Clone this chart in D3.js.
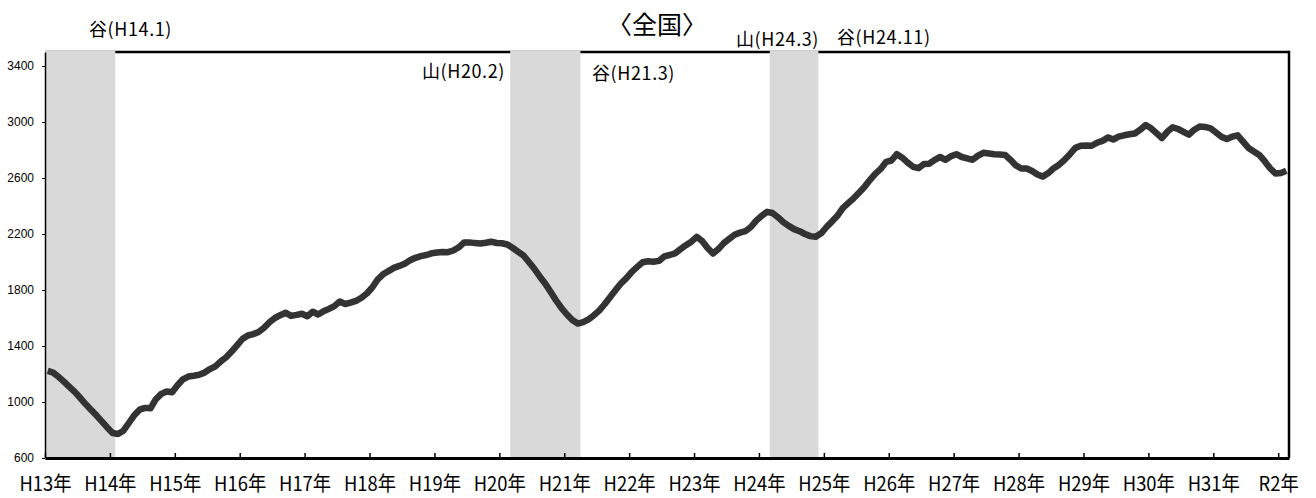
<!DOCTYPE html>
<html lang="ja">
<head>
<meta charset="utf-8">
<script src="https://cdn.jsdelivr.net/npm/d3@7"></script>
<style>
    body { margin: 0; background: #fff; }
    svg { display: block; }
</style>
</head>
<body>
<svg id="chart"></svg>
<script>
// monthly values, H13.1 (2001-01) .. R2.2 (2020-02)
const values = [
    1222, 1210, 1180, 1145, 1108, 1072, 1030, 985, 945, 905, 862, 818,
    778, 772, 795, 850, 905, 945, 958, 955, 1020, 1058, 1075, 1070,
    1120, 1162, 1182, 1188, 1195, 1210, 1235, 1255, 1290, 1320, 1360, 1405,
    1450, 1475, 1485, 1500, 1530, 1570, 1600, 1620, 1638, 1615, 1622, 1630,
    1612, 1645, 1625, 1648, 1665, 1685, 1718, 1700, 1710, 1722, 1745, 1775,
    1818, 1875, 1912, 1935, 1958, 1972, 1988, 2012, 2030, 2042, 2050, 2062,
    2068, 2072, 2070, 2082, 2105, 2140, 2140, 2135, 2132, 2138, 2145, 2136,
    2134, 2125, 2100, 2072, 2045, 1998, 1950, 1895, 1845, 1785, 1725, 1670,
    1625, 1585, 1560, 1570, 1590, 1620, 1655, 1700, 1750, 1800, 1848, 1885,
    1930, 1965, 1998, 2005, 2002, 2008, 2040, 2050, 2062, 2092, 2120, 2145,
    2180, 2150, 2100, 2060, 2092, 2135, 2165, 2195, 2210, 2220, 2250, 2295,
    2330, 2358, 2350, 2320, 2285, 2258, 2235, 2220, 2200, 2185, 2180, 2205,
    2250, 2290, 2330, 2385, 2420, 2455, 2495, 2535, 2585, 2630, 2665, 2715,
    2725, 2770, 2745, 2710, 2680, 2670, 2700, 2702, 2730, 2750, 2730, 2755,
    2770, 2750, 2740, 2730, 2760, 2780, 2775, 2770, 2768, 2765, 2730, 2690,
    2668, 2668, 2650, 2625, 2610, 2635, 2670, 2695, 2730, 2770, 2815, 2830,
    2832, 2830, 2852, 2865, 2890, 2875, 2895, 2905, 2912, 2918, 2945, 2978,
    2955, 2920, 2885, 2930, 2962, 2950, 2930, 2910, 2945, 2968, 2965, 2955,
    2925, 2895, 2878, 2895, 2905, 2860, 2815, 2790, 2765, 2720, 2670, 2632,
    2635, 2652
]

const yearLabels = [
    'H13年', 'H14年', 'H15年', 'H16年', 'H17年', 'H18年', 'H19年', 'H20年',
    'H21年', 'H22年', 'H23年', 'H24年', 'H25年', 'H26年', 'H27年', 'H28年',
    'H29年', 'H30年', 'H31年', 'R2年'
]

const yTicks = [600, 1000, 1400, 1800, 2200, 2600, 3000, 3400]

// recession bands, in months from H13.1
const bandFrom = [0, 86, 134]
const bandTo = [13, 99, 143]

const turnLabels = ['谷(H14.1)', '山(H20.2)', '谷(H21.3)', '山(H24.3)', '谷(H24.11)']
const title = '〈全国〉'

// layout
const width = 1316
const height = 498
const margin = { top: 52, right: 27, bottom: 40, left: 45 }
const turnLabelPos = [
    { x: 89, y: 36, anchor: 'start' },
    { x: 505, y: 78, anchor: 'end' },
    { x: 592, y: 80, anchor: 'start' },
    { x: 736, y: 46, anchor: 'start' },
    { x: 837, y: 44, anchor: 'start' }
]
const fontJa = '"Noto Sans CJK JP", "Noto Sans", sans-serif'

const svg = d3.select('#chart').attr('width', width).attr('height', height)

const x = d3.scaleLinear()
    .domain([0, 230])
    .range([margin.left, width - margin.right])

const y = d3.scaleLinear()
    .domain([600, 3500])
    .range([height - margin.bottom, margin.top])

// top border first, bands cover it
svg.append('line')
    .attr('x1', x(0)).attr('x2', x(230))
    .attr('y1', y(3500)).attr('y2', y(3500))
    .attr('stroke', '#000').attr('stroke-width', 2.5)

svg.append('g').selectAll('rect').data(bandFrom).enter()
    .append('rect')
    .attr('x', v => x(v))
    .attr('width', (v, i) => x(bandTo[i]) - x(v))
    .attr('y', y(3500) - 1.5)
    .attr('height', y(600) - y(3500) + 1.5)
    .attr('fill', '#d9d9d9')

// right border
svg.append('line')
    .attr('x1', x(230)).attr('x2', x(230))
    .attr('y1', y(3500) - 1.2).attr('y2', y(600))
    .attr('stroke', '#000').attr('stroke-width', 2.5)

// y axis
const yAxis = svg.append('g')
    .attr('transform', `translate(${margin.left}, 0)`)
    .call(d3.axisLeft(y)
        .tickValues(yTicks)
        .tickFormat(d3.format('d'))
        .tickSize(3)
        .tickPadding(8)
        .tickSizeOuter(0))

yAxis.select('.domain').attr('stroke-width', 1.5)
yAxis.selectAll('text')
    .attr('font-size', 12)
    .attr('font-family', '"Liberation Sans", Arial, sans-serif')
    .attr('fill', '#000')

// x axis, ticks at each January
const xAxis = svg.append('g')
    .attr('transform', `translate(0, ${height - margin.bottom})`)
    .call(d3.axisBottom(x)
        .tickValues(yearLabels.map((v, i) => i * 12))
        .tickFormat((v, i) => yearLabels[i])
        .tickSize(-5)
        .tickPadding(19)
        .tickSizeOuter(0))

xAxis.select('.domain').attr('stroke-width', 3)
xAxis.selectAll('line').attr('stroke-width', 1.5)
xAxis.selectAll('text')
    .attr('font-size', 20)
    .attr('transform', 'scale(0.92, 1)')
    .attr('font-family', fontJa)
    .attr('fill', '#000')

// series line
const line = d3.line()
    .x((v, i) => x(i + 0.5))
    .y(v => y(v))

svg.append('path')
    .datum(values)
    .attr('d', line)
    .attr('fill', 'none')
    .attr('stroke', '#333')
    .attr('stroke-width', 6.5)
    .attr('stroke-linejoin', 'round')

// peak / trough labels
svg.append('g').selectAll('text').data(turnLabels).enter()
    .append('text')
    .text(v => v)
    .attr('x', (v, i) => turnLabelPos[i].x)
    .attr('y', (v, i) => turnLabelPos[i].y)
    .attr('text-anchor', (v, i) => turnLabelPos[i].anchor)
    .attr('font-size', 18)
    .attr('letter-spacing', 0.6)
    .attr('font-family', fontJa)
    .attr('fill', '#000')

svg.append('text')
    .text(title)
    .attr('x', 657)
    .attr('y', 34)
    .attr('text-anchor', 'middle')
    .attr('font-size', 25)
    .attr('font-family', fontJa)
    .attr('fill', '#000')
</script>
</body>
</html>
